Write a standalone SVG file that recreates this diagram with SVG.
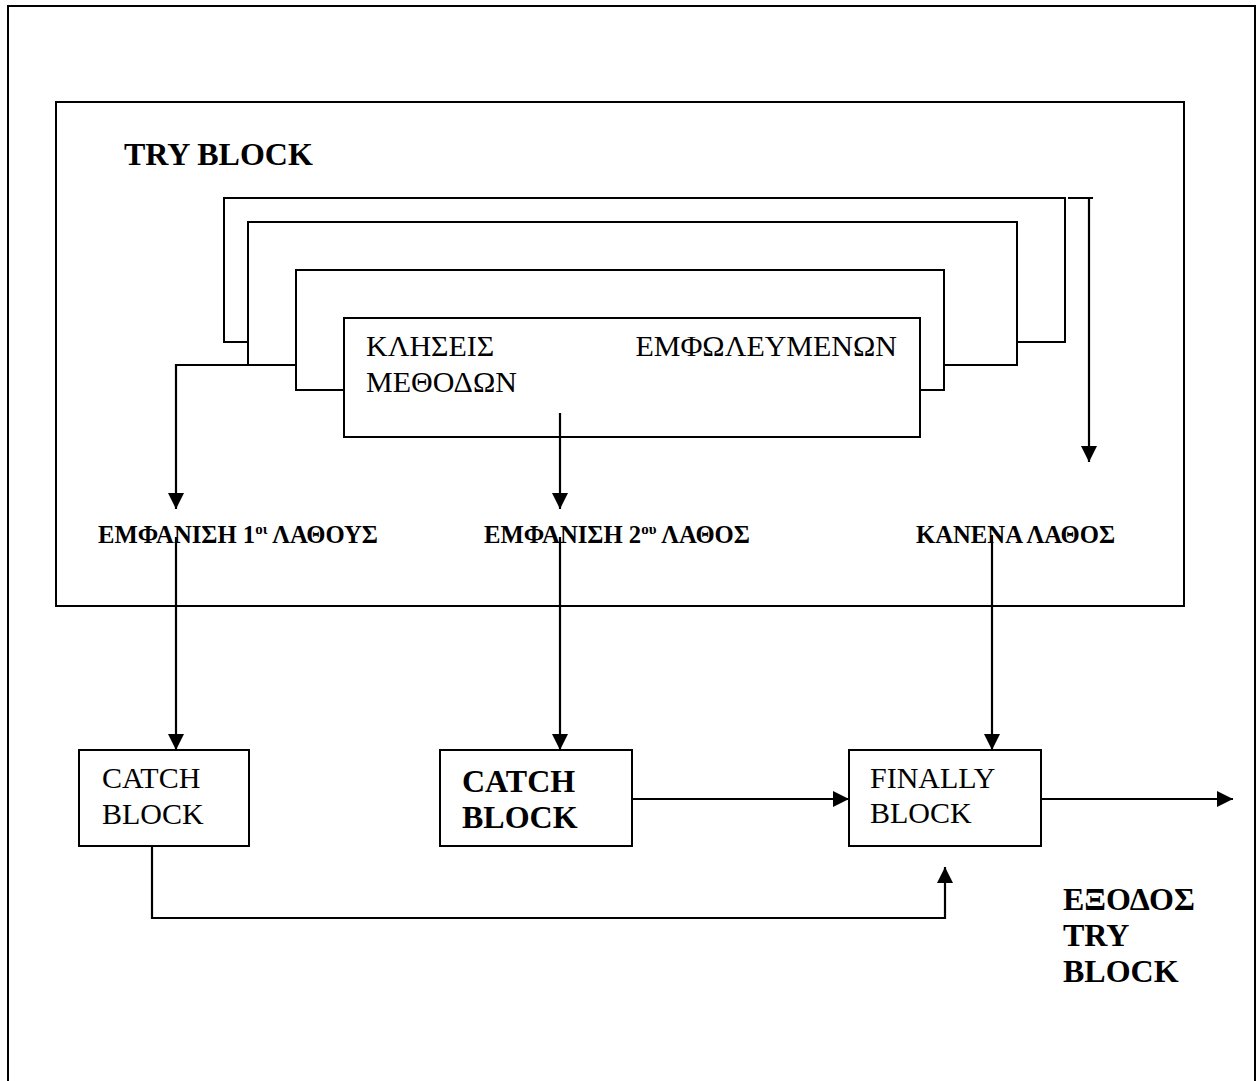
<svg xmlns="http://www.w3.org/2000/svg" width="1259" height="1081" viewBox="0 0 1259 1081">
  <style>
    .ln { fill: none; stroke: #000; stroke-width: 2; }
    .box { fill: #fff; stroke: #000; stroke-width: 2; }
    .arr { fill: none; stroke: #000; stroke-width: 2.2; marker-end: url(#head); }
    .t { font-family: "Liberation Serif", "Times New Roman", serif; fill: #000; }
    .reg30 { font-size: 30px; }
    .bold32 { font-size: 32px; font-weight: bold; }
    .lab { font-size: 24.7px; font-weight: bold; }
    .sup { font-size: 15px; }
  </style>
  <defs>
    <marker id="head" markerUnits="userSpaceOnUse" markerWidth="17" markerHeight="16" refX="16" refY="8" orient="auto">
      <path d="M0,0 L16,8 L0,16 Z" fill="#000"/>
    </marker>
  </defs>
  <rect width="1259" height="1081" fill="#fff"/>

  <!-- page frame -->
  <rect id="frame" x="8" y="6" width="1247" height="1090" class="ln"/>

  <!-- try block container -->
  <g id="try-block">
    <rect x="56" y="102" width="1128" height="504" class="ln"/>
    <text class="t bold32" x="124" y="165">TRY BLOCK</text>
  </g>

  <!-- nested call frames -->
  <g id="frame-1">
    <polyline class="ln" points="248,342 224,342 224,198 1065,198 1065,342 1017,342"/>
  </g>
  <g id="frame-2">
    <polyline class="ln" points="296,365 248,365 248,222 1017,222 1017,365 944,365"/>
  </g>
  <g id="frame-3">
    <polyline class="ln" points="344,390 296,390 296,270 944,270 944,390 920,390"/>
  </g>
  <g id="nested-calls">
    <rect x="344" y="318" width="576" height="119" class="box"/>
    <text class="t reg30" x="366" y="356">ΚΛΗΣΕΙΣ</text>
    <text class="t reg30" x="897" y="356" text-anchor="end">ΕΜΦΩΛΕΥΜΕΝΩΝ</text>
    <text class="t reg30" x="366" y="392">ΜΕΘΟΔΩΝ</text>
  </g>

  <!-- outcome labels -->
  <g id="label-error-1">
    <text class="t lab" x="98" y="543">ΕΜΦΑΝΙΣΗ 1<tspan class="sup" dy="-9">οι</tspan><tspan dy="9"> ΛΑΘΟΥΣ</tspan></text>
  </g>
  <g id="label-error-2">
    <text class="t lab" x="484" y="543">ΕΜΦΑΝΙΣΗ 2<tspan class="sup" dy="-9">ου</tspan><tspan dy="9"> ΛΑΘΟΣ</tspan></text>
  </g>
  <g id="label-no-error">
    <text class="t lab" x="916" y="543">ΚΑΝΕΝΑ ΛΑΘΟΣ</text>
  </g>

  <!-- handler blocks -->
  <g id="catch-1">
    <rect x="79" y="750" width="170" height="96" class="box"/>
    <text class="t reg30" x="102" y="788">CATCH</text>
    <text class="t reg30" x="102" y="824">BLOCK</text>
  </g>
  <g id="catch-2">
    <rect x="440" y="750" width="192" height="96" class="box"/>
    <text class="t bold32" x="462" y="792">CATCH</text>
    <text class="t bold32" x="462" y="828">BLOCK</text>
  </g>
  <g id="finally">
    <rect x="849" y="750" width="192" height="96" class="box"/>
    <text class="t reg30" x="870" y="788">FINALLY</text>
    <text class="t reg30" x="870" y="823">BLOCK</text>
  </g>

  <g id="exit-label">
    <text class="t bold32" x="1063" y="910">ΕΞΟΔΟΣ</text>
    <text class="t bold32" x="1063" y="946">TRY</text>
    <text class="t bold32" x="1063" y="982">BLOCK</text>
  </g>

  <!-- connectors -->
  <g id="connectors">
    <path class="arr" d="M248,365 H176 V509"/>
    <path class="arr" d="M560,413 V509"/>
    <path class="ln" d="M1068,198 H1093"/>
    <path class="arr" d="M1089,198 V462"/>
    <path class="arr" d="M176,537 V750"/>
    <path class="arr" d="M560,537 V750"/>
    <path class="arr" d="M992,535 V750"/>
    <path class="arr" d="M632,799 H849"/>
    <path class="arr" d="M1041,799 H1233"/>
    <path class="arr" d="M152,846 V918 H945 V867"/>
  </g>
</svg>
